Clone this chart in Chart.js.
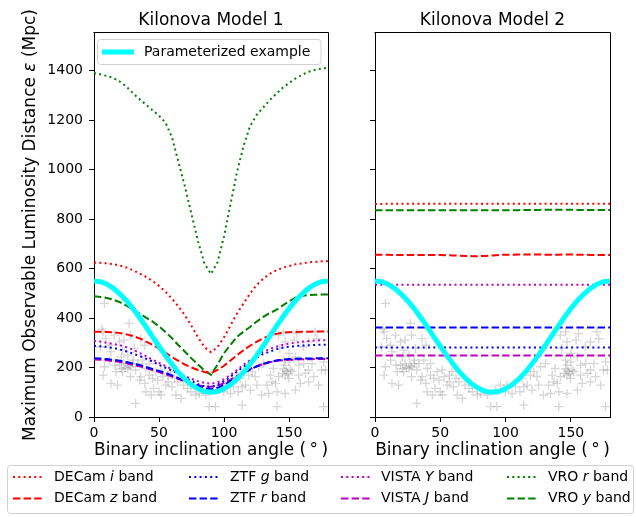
<!DOCTYPE html>
<html><head><meta charset="utf-8">
<script src="https://cdn.jsdelivr.net/npm/chart.js@4.4.1/dist/chart.umd.min.js"></script>
<style>
html,body{margin:0;padding:0;background:#fff;}
#wrap{position:relative;width:636px;height:517px;overflow:hidden;background:#fff;}
#c1{position:absolute;left:0;top:0;}
#c2{position:absolute;left:340px;top:0;}
</style></head><body>
<div id="wrap"><canvas id="c1" width="636" height="517"></canvas><canvas id="c2" width="296" height="470"></canvas></div>
<script>
// ---------- DATA ----------
const angles = [0,5,10,15,20,25,30,35,40,45,50,55,60,65,70,75,80,85,90,95,100,105,110,115,120,125,130,135,140,145,150,155,160,165,170,175,180];
const panelTitles = ['Kilonova Model 1', 'Kilonova Model 2'];
const xTitle = 'Binary inclination angle (\u2009°\u2009)';
const yTitleParts = ['Maximum Observable Luminosity Distance ', 'ε', ' (Mpc)'];
const xTicks = [0, 50, 100, 150];
const yTicks = [0, 200, 400, 600, 800, 1000, 1200, 1400];
const paramLabel = 'Parameterized example';
const bandNames = ['DECam','DECam','ZTF','ZTF','VISTA','VISTA','VRO','VRO'];
const bandFilters = ['i','z','g','r','Y','J','r','y'];

// Parameterized example (same in both panels)
const paramExample = [550,547,537,520,497,470,438,402,364,325,286,248,213,180,153,130,114,103,100,103,114,130,153,180,213,248,286,325,364,402,438,470,497,520,537,547,550];

// Kilonova Model 1
const m1DecamI = [624,623,621,618,612,604,593,580,566,550,530,506,478,447,410,368,322,282,262,282,322,370,418,459,499,533,558,578,592,603,610,617,621,625,627,629,630];
const m1DecamZ = [345,345,344,342,339,334,327,318,305,292,277,260,242,227,212,200,190,182,177,190,207,228,250,270,288,304,318,328,336,340,343,344,345,345,346,346,346];
const m1ZtfG   = [288,286,283,279,273,265,256,247,236,224,211,199,188,175,160,146,133,124,120,130,145,163,183,203,222,240,254,264,273,280,284,287,289,290,291,292,292];
const m1ZtfR   = [237,236,234,231,227,222,216,210,202,194,186,178,168,157,145,134,124,116,112,118,130,145,162,178,192,204,214,222,228,232,234,235,236,236,237,237,237];
const m1VistaY = [307,305,300,295,290,282,272,259,246,232,219,206,193,180,166,154,145,138,134,140,153,170,190,211,230,248,264,275,284,291,297,301,304,307,309,310,311];
const m1VistaJ = [232,231,229,226,222,217,211,205,198,190,182,173,163,153,143,135,128,124,122,127,137,151,166,181,194,205,214,221,226,229,231,232,233,233,234,234,234];
const m1VroR   = [1390,1385,1378,1370,1355,1335,1308,1285,1262,1240,1218,1190,1130,1030,930,820,710,620,578,625,730,860,990,1095,1175,1220,1250,1280,1305,1330,1350,1368,1383,1395,1403,1408,1412];
const m1VroY   = [488,485,481,474,464,450,435,418,402,386,366,344,318,290,264,237,212,188,170,212,258,292,324,345,364,385,404,420,432,450,468,482,490,493,494,495,495];

// Kilonova Model 2 (VRO r lies above the plotted range)
const m2DecamI = [861,861,862,862,862,862,862,862,862,862,862,862,862,862,862,862,862,862,862,862,862,862,862,862,862,862,862,862,862,862,862,862,862,862,862,862,862];
const m2DecamZ = [656,656,656,655,655,655,655,655,655,655,655,654,653,652,651,650,650,651,653,655,656,656,657,657,657,657,656,656,656,657,657,656,656,655,655,655,655];
const m2ZtfG   = [281,281,281,281,281,281,281,281,281,281,281,281,281,281,281,281,281,281,281,281,281,281,281,281,281,281,281,281,281,281,281,281,281,281,281,281,281];
const m2ZtfR   = [362,362,362,362,362,362,362,362,362,362,362,362,362,362,362,362,362,362,362,362,362,362,362,362,362,362,362,362,362,362,362,362,362,362,362,362,362];
const m2VistaY = [535,535,535,535,535,535,535,535,535,535,535,535,535,535,535,535,535,535,535,535,535,535,535,535,535,535,535,535,535,535,535,535,535,535,535,535,535];
const m2VistaJ = [249,249,249,249,249,249,249,249,249,249,249,249,249,249,249,249,249,249,249,249,249,249,249,249,249,249,249,249,249,249,249,249,249,249,249,249,249];
const m2VroR   = [];
const m2VroY   = [836,836,836,836,836,836,836,836,836,836,836,836,836,836,836,836,836,836,836,836,836,836,836,837,837,837,838,838,838,838,838,837,837,837,837,837,837];

// Observed events (grey crosses, same in both panels)
const eventAngle = [8,27,28,7,9,19.5,23,36,39,31,13,21,12,8,16,19.5,23,28,26,22,32,40,42.5,36,35,45,51.5,53,57,59,7,13,18,28,39,46,50,44,51.5,60,63,67,74.5,32,57,88.6,81,69,62,40,
  142,146,156,154,170,171.5,165,161,147,143,150,146,150,155,157.5,151,145,147,142,139.5,133,130.6,126.7,121.6,124,119,116.5,112.6,114,107.5,101,96,92,105,111,129,134.4,140.8,147,155,158.7,165,169,175,176.6,162.6,165,157.5,114,93.4,140.8,176.6,147,138,135.7,
  6,5,178,24,27,21,30,148,149,146,
  11.8,15.6,22,26,17,30,33.6,37.4,42.5,47.6,49,55.3,64.3,72,78.4,86,
  99.8,120.3,125.4,137,152.3,161.3,167.7,172.8,149.8];
const eventDist = [459,378,331,344,317,304,311,317,290,277,264,243,230,203,210,210,216,203,196,183,190,196,169,163,149,156,190,163,169,183,169,136,129,163,136,116,102,89,89,122,89,75,102,55,142,42,95,129,156,102,
  331,344,337,311,344,317,304,284,304,277,257,230,223,243,210,190,176,169,163,136,129,216,203,183,163,169,129,156,122,122,129,129,109,95,102,89,95,102,95,109,136,142,163,190,223,176,190,169,48,42,42,42,210,196,169,
  355,283,190,200,208,195,215,185,175,195,
  290,331,270,250,183,230,216,230,216,183,149,129,142,116,89,89,
  102,109,129,142,183,216,216,129,156];

// ---------- STYLE ----------
const FONT = '"DejaVu Sans", sans-serif';
const DOT = [2, 3.3];
const DASH = [7.4, 3.2];
const bandColor = ['#ff0000','#ff0000','#0000ff','#0000ff','#bf00bf','#bf00bf','#008000','#008000'];
const bandDash = [DOT, DASH, DOT, DASH, DOT, DASH, DOT, DASH];
const CYAN = '#00ffff';

function pts(arr) { return arr.map((v, i) => ({ x: angles[i], y: v })); }

function makeDatasets(series) {
  const ds = [];
  ds.push({ label: paramLabel, data: pts(paramExample), showLine: true, borderColor: CYAN, backgroundColor: CYAN,
            borderWidth: 5, pointRadius: 0, borderCapStyle: 'butt', isParam: true });
  series.forEach((s, i) => {
    ds.push({ label: bandNames[i] + ' ' + bandFilters[i] + ' band', data: pts(s), showLine: true,
              borderColor: bandColor[i], backgroundColor: bandColor[i], borderWidth: 2, borderDash: bandDash[i],
              pointRadius: 0, borderCapStyle: 'butt', bandIndex: i });
  });
  ds.push({ label: 'events', data: eventAngle.map((a, i) => ({ x: a, y: eventDist[i] })), showLine: false,
            pointStyle: 'cross', pointRadius: 4.5, borderColor: 'rgba(128,128,128,0.32)', backgroundColor: 'rgba(0,0,0,0)',
            pointBorderWidth: 1.3, borderWidth: 1.3 });
  return ds;
}

function makeScales(withLabels, yWidth) {
  return {
    x: {
      type: 'linear', min: 0, max: 180,
      afterBuildTicks: s => { s.ticks = xTicks.map(v => ({ value: v })); },
      afterFit: s => { s.height = 50; },
      ticks: { color: '#000', font: { family: FONT, size: 14 }, padding: 3, maxRotation: 0, autoSkip: false, callback: v => String(v) },
      grid: { drawOnChartArea: false, drawTicks: true, tickLength: 5, color: '#000', lineWidth: 1 },
      border: { display: true, color: '#000', width: 1 },
      title: { display: true, text: xTitle, color: '#000', font: { family: FONT, size: 17 }, padding: { top: 0, bottom: 6 } }
    },
    y: {
      type: 'linear', min: 0, max: 1552,
      afterBuildTicks: s => { s.ticks = yTicks.map(v => ({ value: v })); },
      afterFit: s => { s.width = yWidth; },
      ticks: { display: withLabels, color: '#000', font: { family: FONT, size: 14 }, padding: 6, autoSkip: false, callback: v => String(v) },
      grid: { drawOnChartArea: false, drawTicks: true, tickLength: 5, color: '#000', lineWidth: 1 },
      border: { display: true, color: '#000', width: 1 },
      title: { display: false }
    }
  };
}

function roundRect(ctx, x, y, w, h, r) {
  ctx.beginPath();
  ctx.moveTo(x + r, y);
  ctx.lineTo(x + w - r, y); ctx.quadraticCurveTo(x + w, y, x + w, y + r);
  ctx.lineTo(x + w, y + h - r); ctx.quadraticCurveTo(x + w, y + h, x + w - r, y + h);
  ctx.lineTo(x + r, y + h); ctx.quadraticCurveTo(x, y + h, x, y + h - r);
  ctx.lineTo(x, y + r); ctx.quadraticCurveTo(x, y, x + r, y);
  ctx.closePath();
}

const panelDecor = {
  id: 'panelDecor',
  afterDraw(chart, args, opts) {
    const { ctx, chartArea: a } = chart;
    ctx.save();
    ctx.strokeStyle = '#000'; ctx.lineWidth = 1;
    ctx.beginPath();
    ctx.moveTo(Math.round(a.left) - 0.5, Math.round(a.top) - 0.5);
    ctx.lineTo(Math.round(a.right) + 0.5, Math.round(a.top) - 0.5);
    ctx.lineTo(Math.round(a.right) + 0.5, Math.round(a.bottom) + 0.5);
    ctx.stroke();
    ctx.fillStyle = '#000';
    ctx.font = '17px ' + FONT;
    ctx.textAlign = 'center'; ctx.textBaseline = 'alphabetic';
    ctx.fillText(opts.title, (a.left + a.right) / 2, 25);
    if (opts.yTitle) {
      // vertical axis title with italic epsilon
      ctx.save();
      ctx.translate(31, (a.top + a.bottom) / 2);
      ctx.rotate(-Math.PI / 2);
      ctx.textBaseline = 'middle'; ctx.textAlign = 'left';
      const fonts = ['17px ' + FONT, 'italic 17px ' + FONT, '17px ' + FONT];
      let total = 0;
      yTitleParts.forEach((p, k) => { ctx.font = fonts[k]; total += ctx.measureText(p).width; });
      let x = -total / 2;
      yTitleParts.forEach((p, k) => { ctx.font = fonts[k]; ctx.fillText(p, x, 0); x += ctx.measureText(p).width; });
      ctx.restore();
    }
    ctx.restore();
  }
};

const paramLegend = {
  id: 'paramLegend',
  afterDraw(chart, args, opts) {
    if (!opts.show) return;
    const ctx = chart.ctx;
    const ds = chart.data.datasets.find(d => d.isParam);
    ctx.save();
    roundRect(ctx, 97.5, 39.5, 223.5, 25, 3);
    ctx.fillStyle = 'rgba(255,255,255,0.8)'; ctx.fill();
    ctx.strokeStyle = 'rgba(204,204,204,0.9)'; ctx.lineWidth = 1; ctx.stroke();
    ctx.strokeStyle = ds.borderColor; ctx.lineWidth = ds.borderWidth; ctx.lineCap = 'butt';
    ctx.beginPath(); ctx.moveTo(102, 52); ctx.lineTo(134, 52); ctx.stroke();
    ctx.fillStyle = '#000'; ctx.font = '14px ' + FONT; ctx.textBaseline = 'middle'; ctx.textAlign = 'left';
    ctx.fillText(ds.label, 144, 52);
    ctx.restore();
  }
};

const bandLegend = {
  id: 'bandLegend',
  afterDraw(chart, args, opts) {
    if (!opts.show) return;
    const ctx = chart.ctx;
    const bands = chart.data.datasets.filter(d => d.bandIndex !== undefined);
    const colLine = [13, 189, 341, 507];
    const colText = [54, 230, 381, 548];
    const rowY = [477, 498.5];
    ctx.save();
    roundRect(ctx, 7.5, 465.5, 626, 48, 3);
    ctx.fillStyle = '#fff'; ctx.fill();
    ctx.strokeStyle = 'rgba(204,204,204,0.9)'; ctx.lineWidth = 1; ctx.stroke();
    bands.forEach(d => {
      const i = d.bandIndex;
      const c = Math.floor(i / 2), r = i % 2;
      const y = rowY[r];
      ctx.strokeStyle = d.borderColor; ctx.lineWidth = d.borderWidth; ctx.setLineDash(d.borderDash); ctx.lineCap = 'butt';
      ctx.beginPath(); ctx.moveTo(colLine[c], y); ctx.lineTo(colLine[c] + 29, y); ctx.stroke();
      ctx.setLineDash([]);
      ctx.fillStyle = '#000'; ctx.textBaseline = 'middle'; ctx.textAlign = 'left';
      let x = colText[c];
      ctx.font = '14px ' + FONT;
      const p1 = bandNames[i] + ' ';
      ctx.fillText(p1, x, y); x += ctx.measureText(p1).width;
      ctx.font = 'italic 14px ' + FONT;
      ctx.fillText(bandFilters[i], x, y); x += ctx.measureText(bandFilters[i]).width;
      ctx.font = '14px ' + FONT;
      ctx.fillText(' band', x, y);
    });
    ctx.restore();
  }
};

const common = { responsive: false, animation: false, events: [], devicePixelRatio: 1 };

new Chart(document.getElementById('c1'), {
  type: 'scatter',
  data: { datasets: makeDatasets([m1DecamI, m1DecamZ, m1ZtfG, m1ZtfR, m1VistaY, m1VistaJ, m1VroR, m1VroY]) },
  options: Object.assign({}, common, {
    layout: { padding: { left: 0, top: 33, right: 308, bottom: 50 } },
    scales: makeScales(true, 94),
    plugins: { legend: { display: false }, tooltip: { enabled: false }, title: { display: false },
               panelDecor: { title: panelTitles[0], yTitle: true }, paramLegend: { show: true }, bandLegend: { show: true } }
  }),
  plugins: [panelDecor, paramLegend, bandLegend]
});

new Chart(document.getElementById('c2'), {
  type: 'scatter',
  data: { datasets: makeDatasets([m2DecamI, m2DecamZ, m2ZtfG, m2ZtfR, m2VistaY, m2VistaJ, m2VroR, m2VroY]) },
  options: Object.assign({}, common, {
    layout: { padding: { left: 0, top: 33, right: 26, bottom: 3 } },
    scales: makeScales(false, 35),
    plugins: { legend: { display: false }, tooltip: { enabled: false }, title: { display: false },
               panelDecor: { title: panelTitles[1], yTitle: false }, paramLegend: { show: false }, bandLegend: { show: false } }
  }),
  plugins: [panelDecor, paramLegend, bandLegend]
});
</script>
</body></html>
